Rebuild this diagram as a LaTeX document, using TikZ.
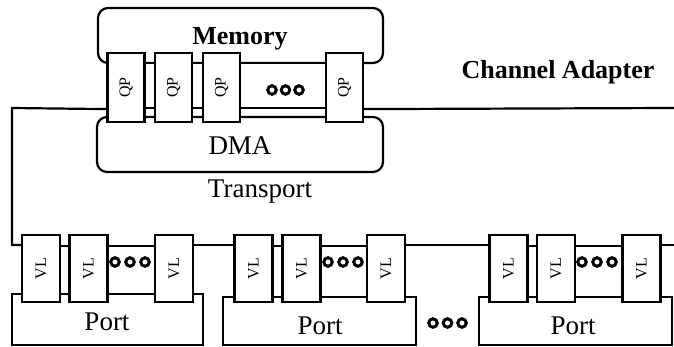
\documentclass[tikz,border=0pt]{standalone}
\usepackage{fontspec}
\setmainfont{Liberation Serif}
\begin{document}
\begin{tikzpicture}[x=1pt,y=-1pt,line width=2.2pt,
  box/.style={draw, fill=white, inner sep=0pt, line width=2.2pt},
  rbox/.style={box, rounded corners=10pt},
  qp/.style={box, minimum width=37pt, minimum height=69pt, font=\fontsize{16}{16}\selectfont},
  vl/.style={box, minimum width=38pt, minimum height=67pt, font=\fontsize{16}{16}\selectfont},
  dot/.style={circle, draw, inner sep=0pt, minimum size=8.5pt, line width=3pt},
  big/.style={inner sep=0pt, font=\fontsize{27}{27}\selectfont},
  bigb/.style={inner sep=0pt, font=\fontsize{26}{26}\selectfont\bfseries}]
\useasboundingbox (0,0) rectangle (674,347);
% ---- channel adapter top ----
\node[rbox, minimum width=285pt, minimum height=55pt] (mem) at (240.5,35.5) {};
\node[bigb] (memtxt) at (240,39) {Memory};
\node[rbox, minimum width=286pt, minimum height=55pt] (dma) at (240,144.5) {};
\node[big] (dmatxt) at (240,146) {DMA};
\node[box, minimum width=255pt, minimum height=45pt] (band) at (235.5,85.5) {};
\node[qp] (q1) at (126,87.5) {\rotatebox{90}{QP}};
\node[qp] (q2) at (173.5,87.5) {\rotatebox{90}{QP}};
\node[qp] (q3) at (221.5,87.5) {\rotatebox{90}{QP}};
\node[qp] (q4) at (344.5,87.5) {\rotatebox{90}{QP}};
\node[dot] (a1) at (272,90) {};
\node[dot] (a2) at (285.5,90) {};
\node[dot] (a3) at (299,90) {};
\node[big] (trans) at (260,192) {Transport};
\node[bigb] (ca) at (558,72) {Channel Adapter};
% ---- ports ----
\node[box, minimum width=133pt, minimum height=48pt] (b1) at (107.5,270) {};
\node[box, minimum width=132pt, minimum height=51pt] (b2) at (319.5,271.5) {};
\node[box, minimum width=133pt, minimum height=51pt] (b3) at (575,271.5) {};
\node[box, minimum width=191pt, minimum height=51pt] (p1) at (107.5,319.5) {};
\node[box, minimum width=193pt, minimum height=48pt] (p2) at (319.5,321) {};
\node[box, minimum width=193pt, minimum height=48pt] (p3) at (575.5,321) {};
\node[big] (pt1) at (107,322) {Port};
\node[big] (pt2) at (320,326) {Port};
\node[big] (pt3) at (573,326) {Port};
\node[vl] (v11) at (41,268.5) {\rotatebox{90}{VL}};
\node[vl] (v12) at (88.5,268.5) {\rotatebox{90}{VL}};
\node[vl] (v13) at (174,268.5) {\rotatebox{90}{VL}};
\node[vl] (v21) at (253.5,268.5) {\rotatebox{90}{VL}};
\node[vl] (v22) at (301.5,268.5) {\rotatebox{90}{VL}};
\node[vl] (v23) at (386,268.5) {\rotatebox{90}{VL}};
\node[vl] (v31) at (508.5,268.5) {\rotatebox{90}{VL}};
\node[vl] (v32) at (556,268.5) {\rotatebox{90}{VL}};
\node[vl] (v33) at (641.5,268.5) {\rotatebox{90}{VL}};
\node[dot] (d11) at (115,262) {};
\node[dot] (d12) at (130,262) {};
\node[dot] (d13) at (145,262) {};
\node[dot] (d21) at (328,262) {};
\node[dot] (d22) at (343,262) {};
\node[dot] (d23) at (358,262) {};
\node[dot] (d31) at (582,262) {};
\node[dot] (d32) at (597,262) {};
\node[dot] (d33) at (612,262) {};
\node[dot] (m1) at (433,323) {};
\node[dot] (m2) at (447.5,323) {};
\node[dot] (m3) at (462,323) {};
% ---- links ----
\coordinate (eR) at (674,108);
\coordinate (cl1) at (12,108);
\coordinate (cl2) at (12,245);
\coordinate (eR2) at (674,245);
\draw (q4.east |- band.south) -- (eR);
\draw (q1.west |- band.south) -- (cl1) -- (cl2) -- (v11.west |- cl2);
\draw (v13.east |- cl2) -- (v21.west |- cl2);
\draw (v23.east |- cl2) -- (v31.west |- cl2);
\draw (v33.east |- cl2) -- (eR2);
\end{tikzpicture}
\end{document}
